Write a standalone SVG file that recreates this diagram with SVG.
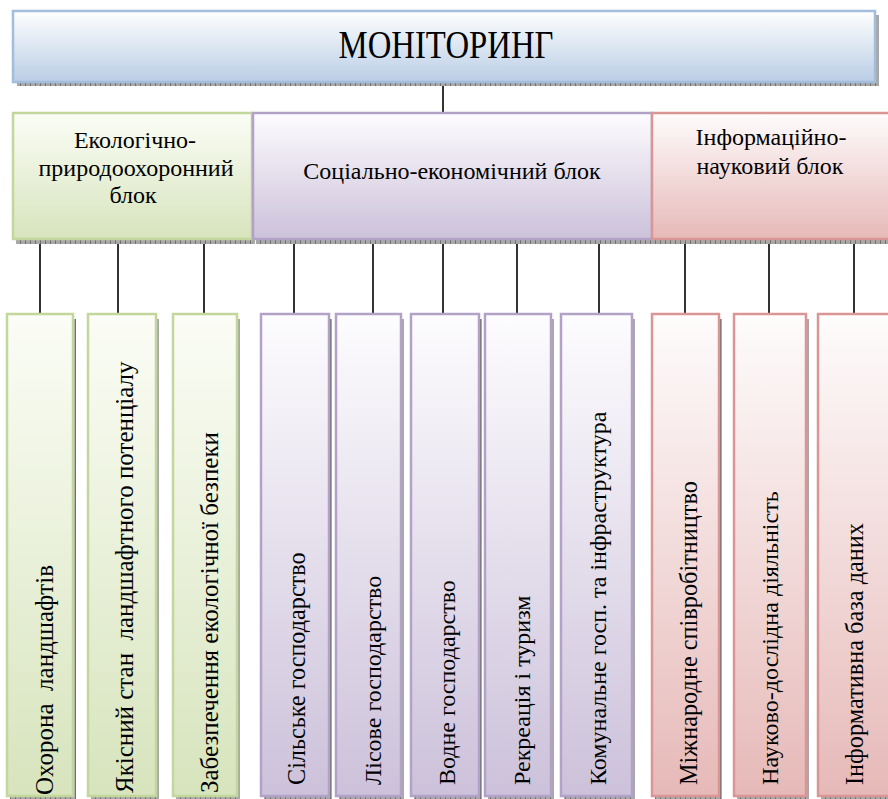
<svg xmlns="http://www.w3.org/2000/svg" width="888" height="799" viewBox="0 0 888 799">
<defs>
<linearGradient id="gBlue" x1="0" y1="0" x2="0" y2="1"><stop offset="0" stop-color="#ffffff"/><stop offset="1" stop-color="#b9cde5"/></linearGradient>
<linearGradient id="gGreen" x1="0" y1="0" x2="0" y2="1"><stop offset="0" stop-color="#fbfdf6"/><stop offset="1" stop-color="#d7e4bd"/></linearGradient>
<linearGradient id="gPurple" x1="0" y1="0" x2="0" y2="1"><stop offset="0" stop-color="#fdfcfe"/><stop offset="1" stop-color="#ccc1da"/></linearGradient>
<linearGradient id="gRed" x1="0" y1="0" x2="0" y2="1"><stop offset="0" stop-color="#fefcfc"/><stop offset="1" stop-color="#e6b9b8"/></linearGradient>
<pattern id="hatch" width="5" height="5" patternUnits="userSpaceOnUse"><rect width="5" height="5" fill="#a8a8a8"/><path d="M0.5 0V5" stroke="#707070" stroke-width="1"/></pattern>
</defs>
<g id="connectors" stroke="#000" stroke-width="1.6" fill="none">
<path d="M443 86V113"/>
<path d="M40 244V314M118 244V314M204 244V314M294 244V314M373 244V314M443 244V314M517 244V314M599 244V314M685 244V314M769 244V314M854 244V314"/>
</g>

<g id="monitoring">
<rect fill="url(#hatch)" x="17" y="15" width="862" height="71"/>
<rect fill="url(#gBlue)" stroke="#a3bddc" stroke-width="2.5" x="13" y="11" width="862" height="71"/>
<text font-family="Liberation Serif" font-size="39" text-anchor="middle" transform="translate(446,58) scale(0.84,1)">МОНІТОРИНГ</text>
</g>

<g id="eco-block" font-family="Liberation Serif" font-size="24" text-anchor="middle">
<rect fill="url(#hatch)" x="16" y="118" width="239" height="126"/>
<rect fill="url(#gGreen)" stroke="#c3d69b" stroke-width="2.5" x="13" y="113" width="239" height="126"/>
<text x="135" y="148">Екологічно-</text>
<text x="136" y="176">природоохоронний</text>
<text x="133" y="203">блок</text>
</g>

<g id="socio-block" font-family="Liberation Serif" font-size="24" text-anchor="middle">
<rect fill="url(#hatch)" x="256" y="118" width="399" height="126"/>
<rect fill="url(#gPurple)" stroke="#b3a2c7" stroke-width="2.5" x="253" y="113" width="399" height="126"/>
<text x="452" y="179">Соціально-економічний блок</text>
</g>

<g id="info-block" font-family="Liberation Serif" font-size="24" text-anchor="middle">
<rect fill="url(#hatch)" x="655" y="118" width="240" height="126"/>
<rect fill="url(#gRed)" stroke="#d99694" stroke-width="2.5" x="652" y="113" width="240" height="126"/>
<text x="771" y="145">Інформаційно-</text>
<text x="770" y="174">науковий блок</text>
</g>

<g id="n1">
<rect fill="url(#hatch)" x="10" y="319" width="66" height="482"/>
<rect fill="url(#gGreen)" stroke="#c3d69b" stroke-width="2.5" x="7" y="314" width="66" height="482"/>
<text xml:space="preserve" font-family="Liberation Serif" font-size="25" transform="translate(53,795) rotate(-90)">Охорона  ландшафтів</text>
</g>
<g id="n2">
<rect fill="url(#hatch)" x="91" y="319" width="68" height="482"/>
<rect fill="url(#gGreen)" stroke="#c3d69b" stroke-width="2.5" x="88" y="314" width="68" height="482"/>
<text xml:space="preserve" font-family="Liberation Serif" font-size="25" transform="translate(133,793) rotate(-90)">Якісний стан  ландшафтного потенціалу</text>
</g>
<g id="n3">
<rect fill="url(#hatch)" x="176" y="319" width="64" height="482"/>
<rect fill="url(#gGreen)" stroke="#c3d69b" stroke-width="2.5" x="173" y="314" width="64" height="482"/>
<text font-family="Liberation Serif" font-size="25" transform="translate(218,793) rotate(-90)">Забезпечення екологічної безпеки</text>
</g>
<g id="n4">
<rect fill="url(#hatch)" x="264" y="319" width="68" height="482"/>
<rect fill="url(#gPurple)" stroke="#b3a2c7" stroke-width="2.5" x="261" y="314" width="68" height="482"/>
<text font-family="Liberation Serif" font-size="24.2" transform="translate(305,785) rotate(-90)">Сільське господарство</text>
</g>
<g id="n5">
<rect fill="url(#hatch)" x="339" y="319" width="65" height="482"/>
<rect fill="url(#gPurple)" stroke="#b3a2c7" stroke-width="2.5" x="336" y="314" width="65" height="482"/>
<text font-family="Liberation Serif" font-size="24" transform="translate(381,785) rotate(-90)">Лісове господарство</text>
</g>
<g id="n6">
<rect fill="url(#hatch)" x="414" y="319" width="68" height="482"/>
<rect fill="url(#gPurple)" stroke="#b3a2c7" stroke-width="2.5" x="411" y="314" width="68" height="482"/>
<text font-family="Liberation Serif" font-size="24" transform="translate(455,785) rotate(-90)">Водне господарство</text>
</g>
<g id="n7">
<rect fill="url(#hatch)" x="488" y="319" width="66" height="482"/>
<rect fill="url(#gPurple)" stroke="#b3a2c7" stroke-width="2.5" x="485" y="314" width="66" height="482"/>
<text font-family="Liberation Serif" font-size="24" transform="translate(530,785) rotate(-90)">Рекреація і туризм</text>
</g>
<g id="n8">
<rect fill="url(#hatch)" x="564" y="319" width="71" height="482"/>
<rect fill="url(#gPurple)" stroke="#b3a2c7" stroke-width="2.5" x="561" y="314" width="71" height="482"/>
<text font-family="Liberation Serif" font-size="24" transform="translate(606,785) rotate(-90)">Комунальне госп. та інфраструктура</text>
</g>
<g id="n9">
<rect fill="url(#hatch)" x="655" y="319" width="67" height="482"/>
<rect fill="url(#gRed)" stroke="#d99694" stroke-width="2.5" x="652" y="314" width="67" height="482"/>
<text font-family="Liberation Serif" font-size="24.3" transform="translate(697,785) rotate(-90)">Міжнародне співробітництво</text>
</g>
<g id="n10">
<rect fill="url(#hatch)" x="737" y="319" width="72" height="482"/>
<rect fill="url(#gRed)" stroke="#d99694" stroke-width="2.5" x="734" y="314" width="72" height="482"/>
<text font-family="Liberation Serif" font-size="24.1" transform="translate(778,785) rotate(-90)">Науково-дослідна діяльність</text>
</g>
<g id="n11">
<rect fill="url(#hatch)" x="821" y="319" width="72" height="482"/>
<rect fill="url(#gRed)" stroke="#d99694" stroke-width="2.5" x="818" y="314" width="72" height="482"/>
<text font-family="Liberation Serif" font-size="24.3" transform="translate(863,785) rotate(-90)">Інформативна база даних</text>
</g>
</svg>
